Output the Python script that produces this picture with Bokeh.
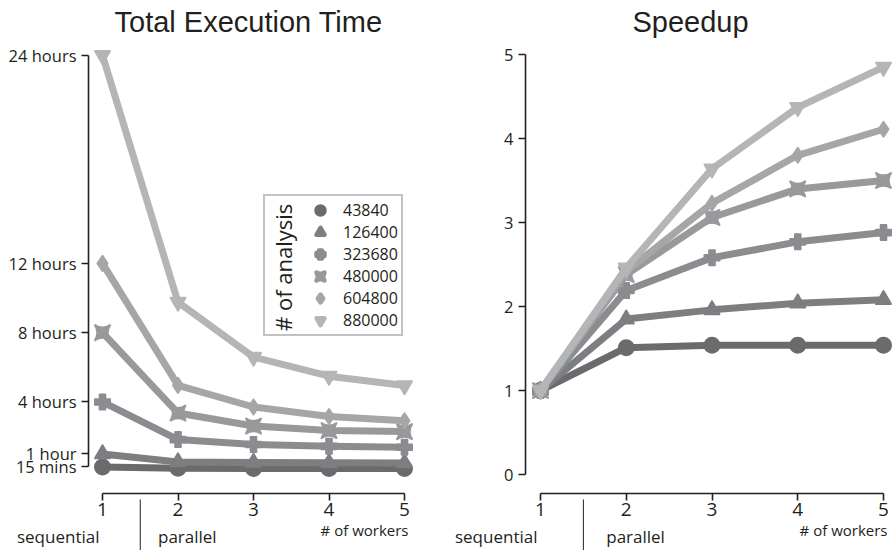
from bokeh.plotting import figure
from bokeh.layouts import row
from bokeh.models import Range1d, FixedTicker, Legend, LegendItem, Label
from bokeh.embed import file_html
from bokeh.resources import INLINE

# ---------------- data ----------------
workers = [1, 2, 3, 4, 5]
series_names = ["43840", "126400", "323680", "480000", "604800", "880000"]

# total execution time in hours
hours_43840 = [0.25, 0.17, 0.16, 0.16, 0.16]
hours_126400 = [1.0, 0.54, 0.51, 0.49, 0.48]
hours_323680 = [4.0, 1.83, 1.55, 1.44, 1.39]
hours_480000 = [8.0, 3.36, 2.61, 2.35, 2.29]
hours_604800 = [12.0, 4.96, 3.71, 3.16, 2.92]
hours_880000 = [24.0, 9.76, 6.59, 5.49, 4.95]

# speedup
speed_43840 = [1.0, 1.51, 1.54, 1.54, 1.54]
speed_126400 = [1.0, 1.85, 1.96, 2.04, 2.08]
speed_323680 = [1.0, 2.19, 2.58, 2.77, 2.88]
speed_480000 = [1.0, 2.38, 3.06, 3.40, 3.50]
speed_604800 = [1.0, 2.42, 3.23, 3.80, 4.11]
speed_880000 = [1.0, 2.46, 3.64, 4.37, 4.85]

time_ticks = [0.25, 1, 4, 8, 12, 24]
time_tick_labels = ["15 mins", "1 hour", "4 hours", "8 hours", "12 hours", "24 hours"]
speed_ticks = [0, 1, 2, 3, 4, 5]
speed_tick_labels = ["0", "1", "2", "3", "4", "5"]
phase_split = 1.5  # boundary between the sequential run and the parallel runs

hours_all = [hours_43840, hours_126400, hours_323680, hours_480000, hours_604800, hours_880000]
speed_all = [speed_43840, speed_126400, speed_323680, speed_480000, speed_604800, speed_880000]

# ---------------- style ----------------
colors = ["#6b6b6e", "#7d7e81", "#8b8c8f", "#98999b", "#a5a6a8", "#b4b5b7"]
markers = ["circle", "triangle", "plus", "square_pin", "diamond", "inverted_triangle"]

INK = "#231f20"
TICK_FONT = "Open Sans"
TITLE_FONT = "Liberation Sans"
H = 550
FRAME_TOP = 37
NAN = float("nan")


def make_fig(width, title, title_offset, x0, ppx, y_zero_px, ppy):
    """x0: data x at frame left; ppx, ppy: pixels per unit; y_zero_px: canvas y of value 0."""
    x_end = x0 + width / ppx
    y_top = (y_zero_px - FRAME_TOP) / ppy
    y_bot = -(H - y_zero_px) / ppy
    p = figure(width=width, height=H, output_backend="svg", toolbar_location=None,
               x_range=Range1d(x0, x_end), y_range=Range1d(y_bot, y_top),
               min_border_left=0, min_border_right=0, min_border_top=FRAME_TOP,
               min_border_bottom=0, title=title)
    p.outline_line_color = None
    p.xgrid.visible = False
    p.ygrid.visible = False
    p.background_fill_color = "white"
    p.border_fill_color = "white"
    p.title.text_font = TITLE_FONT
    p.title.text_font_size = "29px"
    p.title.text_font_style = "normal"
    p.title.text_color = INK
    p.title.standoff = 0
    p.title.align = "left"
    p.title.offset = title_offset
    return p


def style_axes(p, x_axis_y, y_axis_x):
    for ax in (p.xaxis[0], p.yaxis[0]):
        ax.axis_line_color = INK
        ax.axis_line_width = 1.6
        ax.major_tick_line_color = INK
        ax.major_tick_line_width = 1.6
        ax.major_tick_in = 0
        ax.major_tick_out = 7
        ax.minor_tick_line_color = None
        ax.major_label_text_font = TICK_FONT
        ax.major_label_text_color = INK
    p.xaxis.major_label_text_font_size = "19px"
    p.xaxis.major_label_standoff = 2
    p.xaxis.ticker = FixedTicker(ticks=workers)
    p.xaxis.bounds = (1, 5)
    p.xaxis.fixed_location = x_axis_y
    p.yaxis.fixed_location = y_axis_x


def y_tick_texts(p, ticks, labels, y_axis_x):
    # tick labels sit on their tick (baseline at the tick) as in the original
    p.yaxis.ticker = FixedTicker(ticks=ticks)
    p.yaxis.major_label_overrides = {t: "" for t in ticks}
    for t, lab in zip(ticks, labels):
        p.add_layout(Label(x=y_axis_x, y=t, text=lab, text_align="right",
                           text_baseline="alphabetic", x_offset=-12, y_offset=0,
                           text_font=TICK_FONT, text_font_size="16.5px", text_color=INK))


def bottom_texts(p, y_workers, y_phase, y_sep_top):
    p.add_layout(Label(x=1, y=y_phase, text="sequential", text_align="right",
                       text_baseline="middle", x_offset=-3,
                       text_font=TICK_FONT, text_font_size="17px", text_color=INK))
    p.add_layout(Label(x=2, y=y_phase, text="parallel", text_align="left",
                       text_baseline="middle", x_offset=-20,
                       text_font=TICK_FONT, text_font_size="17px", text_color=INK))
    p.add_layout(Label(x=5, y=y_workers, text="# of workers", text_align="right",
                       text_baseline="middle", x_offset=4,
                       text_font=TICK_FONT, text_font_size="15px", text_color=INK))
    p.segment(x0=[phase_split], y0=[y_sep_top], x1=[phase_split], y1=[p.y_range.start],
              line_color=INK, line_width=1)


def draw_series(p, values):
    items = []
    for name, vals, c, m in zip(series_names, values, colors, markers):
        p.line(workers, vals, line_width=7, line_color=c, line_join="round", line_cap="round")
        p.scatter(workers, vals, marker=m, size=15, fill_color=c, line_color=c,
                  line_width=2, line_join="round")
        # renderer without visible points; it only supplies the rounded legend symbol
        key = p.scatter(x=[NAN], y=[NAN], marker=m, size=15, fill_color=c, line_color=c,
                        line_width=4.5, line_join="round")
        items.append(LegendItem(label=name, renderers=[key]))
    return items


# ---------------- left: total execution time ----------------
# canvas geometry (pixels): tick "1" at x=102, 75.5 px per worker; 0 h at y=470.8, 17.33 px/hour
LEFT_W = 440
L_PPX, L_PPY, L_ZERO = 75.5, 17.33, 470.8
l_x0 = 1 - 102 / L_PPX
l_axis_x = 1 - 14 / L_PPX
l_axis_y = -(493 - L_ZERO) / L_PPY
p1 = make_fig(LEFT_W, "Total Execution Time", 114, l_x0, L_PPX, L_ZERO, L_PPY)
style_axes(p1, l_axis_y, l_axis_x)
p1.yaxis.bounds = (0.25, 24)
y_tick_texts(p1, time_ticks, time_tick_labels, l_axis_x)
items = draw_series(p1, hours_all)

legend = Legend(items=items, location=(263, 214), title="# of analysis", title_location="left")
legend.label_text_font = TICK_FONT
legend.label_text_font_size = "16px"
legend.label_text_color = INK
legend.title_text_font = TICK_FONT
legend.title_text_font_size = "22px"
legend.title_text_font_style = "normal"
legend.title_text_color = INK
legend.border_line_color = "#848588"
legend.border_line_width = 2
legend.background_fill_color = "white"
legend.glyph_width = 20
legend.glyph_height = 20
legend.label_height = 18
legend.spacing = 0
legend.padding = 3
legend.label_standoff = 13
legend.title_standoff = 12
p1.add_layout(legend)
bottom_texts(p1, -(529 - L_ZERO) / L_PPY, -(536 - L_ZERO) / L_PPY, -(499 - L_ZERO) / L_PPY)

# ---------------- right: speedup ----------------
R_PPX, R_PPY, R_ZERO = 85.75, 84.0, 474.0
r_x0 = 1 - (540 - LEFT_W) / R_PPX
r_axis_x = 1 - 15 / R_PPX
r_axis_y = -(493 - R_ZERO) / R_PPY
p2 = make_fig(892 - LEFT_W, "Speedup", 632 - LEFT_W, r_x0, R_PPX, R_ZERO, R_PPY)
style_axes(p2, r_axis_y, r_axis_x)
p2.yaxis.bounds = (0, 5)
y_tick_texts(p2, speed_ticks, speed_tick_labels, r_axis_x)
draw_series(p2, speed_all)
bottom_texts(p2, -(529 - R_ZERO) / R_PPY, -(536 - R_ZERO) / R_PPY, -(499 - R_ZERO) / R_PPY)

layout = row(p1, p2)
open("out.html", "w").write(file_html(layout, INLINE))
